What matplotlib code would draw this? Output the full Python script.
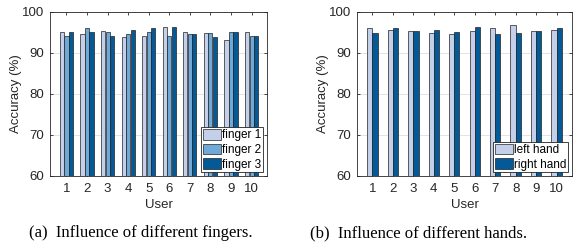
import numpy as np
import matplotlib.pyplot as plt

users = np.arange(1, 11)

finger1 = [95.1, 94.6, 95.3, 93.9, 94.1, 96.3, 95.2, 94.8, 93.2, 95.2]
finger2 = [94.2, 96.1, 95.2, 94.6, 95.0, 94.2, 94.7, 94.8, 95.0, 94.2]
finger3 = [95.2, 95.0, 94.2, 95.5, 96.2, 96.3, 94.7, 93.8, 95.0, 94.2]

left_hand = [96.1, 95.6, 95.3, 94.9, 94.6, 95.3, 96.2, 96.8, 95.3, 95.7]
right_hand = [94.8, 96.1, 95.4, 95.6, 95.2, 96.3, 94.7, 94.8, 95.4, 96.2]

c_light = "#c4cfea"
c_mid = "#6fa9d8"
c_dark = "#035a96"

plt.rcParams['font.family'] = ['Liberation Sans', 'DejaVu Sans']

fig = plt.figure(figsize=(5.78, 2.5), dpi=100)
ax1 = fig.add_axes([50 / 578, 1 - 176 / 250, 217 / 578, 164 / 250])
ax2 = fig.add_axes([357 / 578, 1 - 176 / 250, 215 / 578, 164 / 250])


def style(ax, xlim):
    ax.set_ylim(60, 100)
    ax.set_xlim(*xlim)
    ax.set_xticks(users)
    ax.set_yticks([60, 70, 80, 90, 100])
    ax.yaxis.grid(True, color="#e3e3e3", linewidth=0.7)
    ax.set_axisbelow(True)
    ax.tick_params(direction="in", top=True, right=True, length=2.5,
                   width=0.6, colors="#262626", labelsize=9.5)
    ax.tick_params(axis="x", pad=5)
    ax.tick_params(axis="y", pad=4)
    for s in ax.spines.values():
        s.set_linewidth(0.6)
        s.set_color("#262626")
    ax.set_xlabel("User", fontsize=9.5, color="#262626", labelpad=3)
    ax.set_ylabel("Accuracy (%)", fontsize=9.5, color="#262626", labelpad=0)


def legend(ax):
    leg = ax.legend(loc="lower right", fontsize=8.5, frameon=True, fancybox=False,
                    edgecolor="#222", framealpha=1, borderpad=0.15, labelspacing=0.2,
                    handlelength=1.5, handleheight=1.0, handletextpad=0.15,
                    borderaxespad=0.3)
    leg.get_frame().set_linewidth(0.6)


w3 = 0.2
ax1.bar(users - 0.22, finger1, w3, color=c_light, edgecolor="#222", linewidth=0.5, label="finger 1")
ax1.bar(users, finger2, w3, color=c_mid, edgecolor="#222", linewidth=0.5, label="finger 2")
ax1.bar(users + 0.22, finger3, w3, color=c_dark, edgecolor="#222", linewidth=0.5, label="finger 3")
style(ax1, (0.2, 10.75))
legend(ax1)

w2 = 0.25
ax2.bar(users - 0.13, left_hand, w2, color=c_light, edgecolor="#222", linewidth=0.5, label="left hand")
ax2.bar(users + 0.13, right_hand, w2, color=c_dark, edgecolor="#222", linewidth=0.5, label="right hand")
style(ax2, (0.25, 10.75))
legend(ax2)

fig.text(141 / 578, 1 - 233 / 250, "(a)  Influence of different fingers.",
         ha="center", va="center", fontsize=12, family=["Liberation Serif"])
fig.text(419 / 578, 1 - 233 / 250, "(b)  Influence of different hands.",
         ha="center", va="center", fontsize=12, family=["Liberation Serif"])

fig.savefig("out.png", dpi=100)
